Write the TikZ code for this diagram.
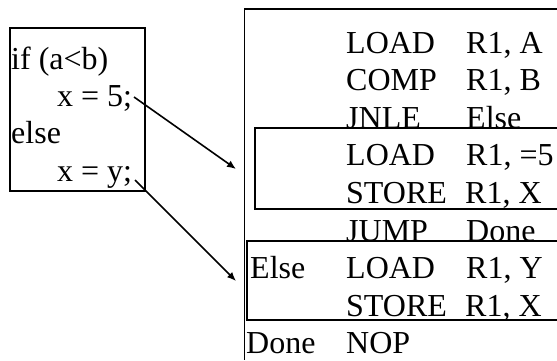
\documentclass[tikz,border=0pt]{standalone}
\usepackage{fontspec}
\setmainfont{Liberation Serif}
\usetikzlibrary{arrows.meta}
\tikzset{
  code/.style={inner sep=0pt, anchor=base west, font=\fontsize{32}{38}\selectfont},
  frame/.style={line width=1.9pt},
  link/.style={line width=1.6pt, -{Latex[length=9pt,width=7.5pt]}}
}
\begin{document}
\begin{tikzpicture}[x=1pt,y=-1pt]
\useasboundingbox (0,0) rectangle (557,360);

% source fragment
\draw[frame] (10,28) rectangle (145,191);
\node[code] (if)   at (11,69)  {if (a<b)};
\node[code] (then) at (57,106) {x = 5;};
\node[code] (els)  at (11,143) {else};
\node[code] (othr) at (57,181) {x = y;};

% assembly listing
\node[code] (m1) at (346,53)    {LOAD};   \node[code] (o1) at (466,53)    {R1, A};
\node[code] (m2) at (346,90.6)  {COMP};   \node[code] (o2) at (466,90.6)  {R1, B};
\node[code] (m3) at (346,128.2) {JNLE};   \node[code] (o3) at (466,128.2) {Else};
\node[code] (m4) at (346,165.8) {LOAD};   \node[code] (o4) at (466,165.8) {R1, =5};
\node[code] (m5) at (346,203.4) {STORE};  \node[code] (o5) at (465,203.4) {R1, X};
\node[code] (m6) at (346,241)   {JUMP};   \node[code] (o6) at (466,241)   {Done};
\node[code] (l7) at (250,278.6) {Else};
\node[code] (m7) at (346,278.6) {LOAD};   \node[code] (o7) at (466,278.6) {R1, Y};
\node[code] (m8) at (346,316.2) {STORE};  \node[code] (o8) at (465,316.2) {R1, X};
\node[code] (l9) at (246,353.8) {Done};
\node[code] (m9) at (346,353.8) {NOP};

% outer listing frame, then-block and else-block
\draw[frame] (557,9) -- (244.5,9) -- (244.5,360);
\draw[frame] (557,128) -- (255,128) -- (255,209) -- (557,209);
\draw[frame] (557,241) -- (247,241) -- (247,320) -- (557,320);

% connectors from statements to their code blocks
\coordinate (s1) at (134,97);
\coordinate (t1) at (236,169);
\coordinate (s2) at (135,180);
\coordinate (t2) at (236,281);
\draw[link] (s1) -- (t1);
\draw[link] (s2) -- (t2);
\end{tikzpicture}
\end{document}
